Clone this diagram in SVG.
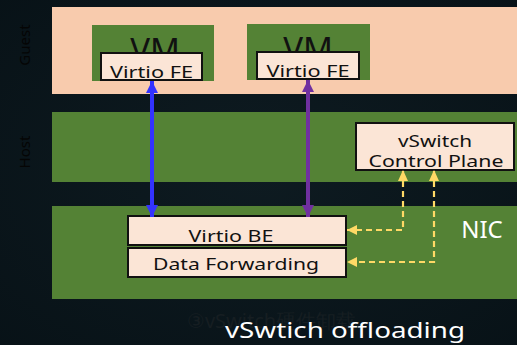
<svg xmlns="http://www.w3.org/2000/svg" width="517" height="345" viewBox="0 0 517 345">
<style>
text{font-family:"Noto Sans","Open Sans","DejaVu Sans",sans-serif}
.box{fill:#fbe5d6;stroke:#111;stroke-width:2}
.lbl{font-size:16px;fill:#111;text-anchor:middle}
.side{font-size:15px;fill:#050505;text-anchor:middle}
.vm{font-size:33px;fill:#111;text-anchor:middle}
.yl{fill:none;stroke:#ffd966;stroke-width:2.2;stroke-dasharray:6 4}
</style>
<defs>
<marker id="hb" markerUnits="userSpaceOnUse" markerWidth="14" markerHeight="14" refX="12" refY="7" orient="auto-start-reverse"><path d="M0,1 L12,7 L0,13 Z" fill="#3333ff"/></marker>
<marker id="hp" markerUnits="userSpaceOnUse" markerWidth="14" markerHeight="14" refX="12" refY="7" orient="auto-start-reverse"><path d="M0,1 L12,7 L0,13 Z" fill="#7030a0"/></marker>
<marker id="hy" markerUnits="userSpaceOnUse" markerWidth="12" markerHeight="12" refX="10" refY="6" orient="auto"><path d="M0,1 L10,6 L0,11 Z" fill="#ffd966"/></marker>
<radialGradient id="bg" cx="0.5" cy="0.5" r="0.8"><stop offset="0" stop-color="#0e1b21"/><stop offset="1" stop-color="#071116"/></radialGradient>
</defs>
<rect width="517" height="345" fill="url(#bg)"/>
<g id="guest">
<rect x="52" y="7" width="465" height="87" fill="#f8cbad"/>
<text class="side" transform="translate(30,45) rotate(-90)">Guest</text>
</g>
<g id="host">
<rect x="52" y="112" width="465" height="70" fill="#548235"/>
<text class="side" transform="translate(30,152) rotate(-90)">Host</text>
</g>
<g id="nic">
<rect x="52" y="206" width="465" height="93" fill="#548235"/>
<text x="482" y="238" font-size="24" fill="#fff" text-anchor="middle">NIC</text>
</g>
<g id="vm1">
<rect x="92" y="25" width="122" height="56" fill="#548235"/>
<text class="vm" x="155" y="62">VM</text>
</g>
<g id="fe1">
<rect class="box" x="101" y="53" width="101" height="27"/>
<text class="lbl" x="151.5" y="78" textLength="83" lengthAdjust="spacingAndGlyphs">Virtio FE</text>
</g>
<g id="vm2">
<rect x="247" y="24" width="123" height="56" fill="#548235"/>
<text class="vm" x="308" y="61">VM</text>
</g>
<g id="fe2">
<rect class="box" x="257" y="52" width="102" height="27"/>
<text class="lbl" x="308" y="77" textLength="83" lengthAdjust="spacingAndGlyphs">Virtio FE</text>
</g>
<g id="cp">
<rect class="box" x="356" y="123" width="158" height="47"/>
<text class="lbl" x="435" y="147" textLength="74" lengthAdjust="spacingAndGlyphs">vSwitch</text>
<text class="lbl" x="436" y="167" textLength="135" lengthAdjust="spacingAndGlyphs">Control Plane</text>
</g>
<g id="be">
<rect class="box" x="128" y="216" width="218" height="29"/>
<text class="lbl" x="231" y="242" textLength="85" lengthAdjust="spacingAndGlyphs">Virtio BE</text>
</g>
<g id="df">
<rect class="box" x="128" y="248" width="218" height="29"/>
<text class="lbl" x="236" y="270" textLength="166" lengthAdjust="spacingAndGlyphs">Data Forwarding</text>
</g>
<g id="connectors">
<line x1="152" y1="81" x2="152" y2="217" stroke="#3333ff" stroke-width="4" marker-start="url(#hb)" marker-end="url(#hb)"/>
<line x1="308" y1="80" x2="308" y2="217" stroke="#7030a0" stroke-width="4" marker-start="url(#hp)" marker-end="url(#hp)"/>
<polyline class="yl" points="403,171 403,230 347,230" marker-end="url(#hy)"/>
<polyline class="yl" points="434,171 434,262 347,262" marker-end="url(#hy)"/>
<path d="M398,181 L403,170 L408,181 Z" fill="#ffd966"/>
<path d="M429,181 L434,170 L439,181 Z" fill="#ffd966"/>
</g>
<text x="187" y="328" font-size="20" fill="#161e22" font-family="'Noto Sans','Noto Sans CJK SC',sans-serif">③vSwitch硬件卸载</text>
<text x="225" y="338" font-size="22" fill="#fff" textLength="240" lengthAdjust="spacingAndGlyphs">vSwtich offloading</text>
</svg>
